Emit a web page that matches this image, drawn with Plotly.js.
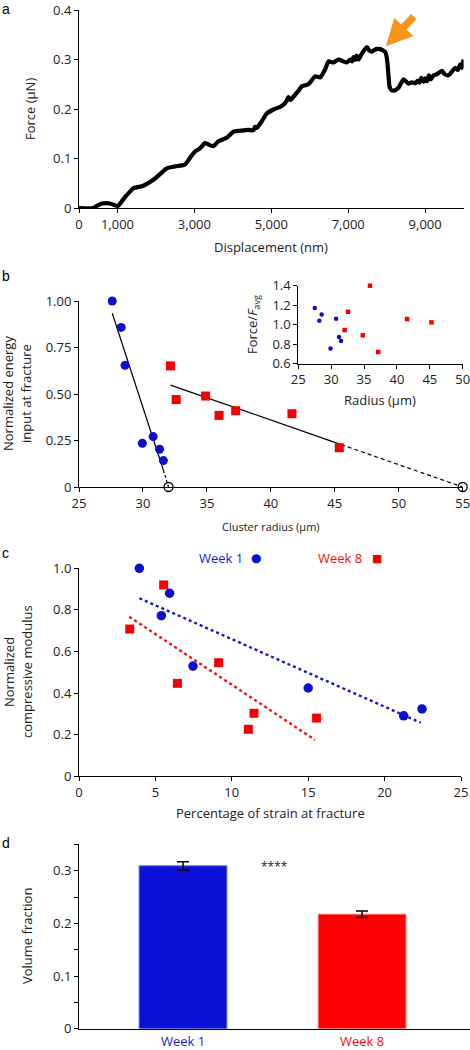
<!DOCTYPE html>
<html><head><meta charset="utf-8">
<script src="https://cdn.plot.ly/plotly-3.0.1.min.js"></script>
<style>html,body{margin:0;padding:0;background:#fff;}#chart{width:470px;height:1050px;}</style>
</head><body><div id="chart"></div>
<script>
// ---------- Panel a: force vs displacement ----------
const displacementNm = [0,373,500,600,807,1006,1100,1197,1300,1414,1674,1934,2100,2281,2498,2758,2900,3018,3150,3278,3400,3495,3625,3842,4016,4189,4400,4536,4580,4623,4750,4883,5056,5273,5380,5447,5500,5577,5700,5794,5967,6050,6141,6271,6400,6487,6617,6747,6850,6964,7050,7100,7138,7180,7220,7268,7355,7485,7550,7615,7720,7832,7962,8000,8023,8050,8075,8120,8179,8309,8439,8569,8650,8742,8800,8850,8900,8959,9000,9050,9100,9150,9219,9300,9436,9500,9610,9700,9783,9850,9913,9950,10000];
const forceMicroN = [0,0,0.006,0.009,0.009,0.004,0.012,0.022,0.031,0.040,0.045,0.057,0.068,0.080,0.084,0.088,0.103,0.114,0.121,0.131,0.127,0.125,0.135,0.142,0.154,0.156,0.158,0.157,0.164,0.162,0.175,0.191,0.199,0.206,0.214,0.224,0.218,0.225,0.236,0.246,0.250,0.258,0.266,0.264,0.280,0.296,0.294,0.300,0.297,0.294,0.300,0.296,0.305,0.299,0.308,0.300,0.312,0.325,0.318,0.316,0.321,0.321,0.315,0.305,0.290,0.265,0.245,0.238,0.237,0.243,0.260,0.251,0.254,0.252,0.257,0.253,0.263,0.255,0.262,0.256,0.268,0.260,0.268,0.270,0.277,0.271,0.268,0.276,0.283,0.279,0.290,0.283,0.300];
const dispTicks = [0,1000,3000,5000,7000,9000];
const dispTickText = ['0','1,000','3,000','5,000','7,000','9,000'];
const forceTicks = [0,0.1,0.2,0.3,0.4];
const forceTickText = ['0','0.1','0.2','0.3','0.4'];

// ---------- Panel b: energy vs cluster radius ----------
const radiusWeek1 = [27.6,28.3,28.6,29.95,30.8,31.3,31.6];
const energyWeek1 = [1.00,0.858,0.654,0.235,0.271,0.203,0.142];
const radiusWeek8 = [32.15,32.6,34.9,35.95,37.25,41.65,45.35];
const energyWeek8 = [0.651,0.470,0.489,0.385,0.410,0.394,0.211];
const fitWeek1SolidX = [27.6,31.6], fitWeek1SolidY = [0.934,0.09];
const fitWeek1DashX = [31.6,32.0], fitWeek1DashY = [0.09,0];
const fitWeek8SolidX = [32.15,45.5], fitWeek8SolidY = [0.548,0.228];
const fitWeek8DashX = [45.5,55], fitWeek8DashY = [0.228,0];
const interceptRadius = [32,55], interceptEnergy = [0,0];
const radiusTicks = [25,30,35,40,45,50,55];
const energyTicks = [0,0.25,0.5,0.75,1.0];
const energyTickText = ['0','0.25','0.50','0.75','1.00'];

// ---------- Panel b inset: force ratio vs radius ----------
const insetRadiusWeek1 = [27.5,28.55,28.2,30.75,29.9,31.2,31.5];
const insetForceWeek1 = [1.17,1.105,1.04,1.06,0.757,0.873,0.832];
const insetRadiusWeek8 = [35.9,32.55,32.05,34.8,37.15,41.55,45.25];
const insetForceWeek8 = [1.40,1.133,0.945,0.891,0.72,1.058,1.024];
const insetRadiusTicks = [25,30,35,40,45,50];
const insetForceTicks = [0.6,0.8,1.0,1.2,1.4];
const insetForceTickText = ['0.6','0.8','1.0','1.2','1.4'];

// ---------- Panel c: modulus vs strain ----------
const strainWeek1 = [3.95,5.93,5.39,7.46,15.0,21.25,22.45];
const modulusWeek1 = [1.00,0.880,0.772,0.530,0.4245,0.291,0.324];
const strainWeek8 = [5.54,3.32,6.44,9.14,11.08,11.45,15.55];
const modulusWeek8 = [0.920,0.708,0.447,0.546,0.226,0.303,0.280];
const trendWeek1X = [3.95,22.36], trendWeek1Y = [0.856,0.258];
const trendWeek8X = [3.29,15.45], trendWeek8Y = [0.767,0.175];
const strainTicks = [0,5,10,15,20,25];
const modulusTicks = [0,0.2,0.4,0.6,0.8,1.0];
const modulusTickText = ['0','0.2','0.4','0.6','0.8','1.0'];

// ---------- Panel d: volume fraction ----------
const groups = ['Week 1','Week 8'];
const volumeFraction = [0.3095,0.2175];
const volumeError = [0.008,0.006];
const volumeTicks = [0,0.05,0.1,0.15,0.2,0.25,0.3,0.35];
const volumeTickText = ['0','','0.1','','0.2','','0.3',''];

const BLUE = '#0d0dcf', RED = '#f50000', TXT = '#222';
const FONT = 'Open Sans, Lato, sans-serif';
const W = 470, H = 1050;
const dx = p => p / W;
const dy = p => 1 - p / H;

function axis(domain, range, extra) {
  return Object.assign({
    domain: domain, range: range, showline: true, linecolor: '#000', linewidth: 1,
    ticks: 'outside', ticklen: 4, tickwidth: 1, tickcolor: '#000',
    showgrid: false, zeroline: false, fixedrange: true, ticklabeloverflow: 'allow',
    tickfont: {family: FONT, size: 13, color: TXT}
  }, extra || {});
}

const traces = [
  {x: displacementNm, y: forceMicroN, xaxis: 'x', yaxis: 'y', mode: 'lines',
   line: {color: '#000', width: 4.2, shape: 'spline', smoothing: 0.6}, cliponaxis: false},

  {x: fitWeek1SolidX, y: fitWeek1SolidY, xaxis: 'x2', yaxis: 'y2', mode: 'lines', line: {color: '#000', width: 1.2}},
  {x: fitWeek1DashX, y: fitWeek1DashY, xaxis: 'x2', yaxis: 'y2', mode: 'lines', line: {color: '#000', width: 1.2, dash: '3px,2px'}},
  {x: fitWeek8SolidX, y: fitWeek8SolidY, xaxis: 'x2', yaxis: 'y2', mode: 'lines', line: {color: '#000', width: 1.2}},
  {x: fitWeek8DashX, y: fitWeek8DashY, xaxis: 'x2', yaxis: 'y2', mode: 'lines', line: {color: '#000', width: 1.2, dash: '4px,3px'}},
  {x: radiusWeek1, y: energyWeek1, xaxis: 'x2', yaxis: 'y2', mode: 'markers', cliponaxis: false,
   marker: {color: BLUE, size: 9, symbol: 'circle'}},
  {x: radiusWeek8, y: energyWeek8, xaxis: 'x2', yaxis: 'y2', mode: 'markers', cliponaxis: false,
   marker: {color: RED, size: 9, symbol: 'square'}},
  {x: interceptRadius, y: interceptEnergy, xaxis: 'x2', yaxis: 'y2', mode: 'markers', cliponaxis: false,
   marker: {color: '#000', size: 9, symbol: 'circle-open', line: {color: '#000', width: 1.3}}},

  {x: insetRadiusWeek1, y: insetForceWeek1, xaxis: 'x3', yaxis: 'y3', mode: 'markers', cliponaxis: false,
   marker: {color: BLUE, size: 4.5, symbol: 'circle'}},
  {x: insetRadiusWeek8, y: insetForceWeek8, xaxis: 'x3', yaxis: 'y3', mode: 'markers', cliponaxis: false,
   marker: {color: RED, size: 4.5, symbol: 'square'}},

  {x: trendWeek1X, y: trendWeek1Y, xaxis: 'x4', yaxis: 'y4', mode: 'lines', line: {color: '#1616d8', width: 2.4, dash: 'dot'}},
  {x: trendWeek8X, y: trendWeek8Y, xaxis: 'x4', yaxis: 'y4', mode: 'lines', line: {color: '#f21010', width: 2.4, dash: 'dot'}},
  {x: strainWeek1, y: modulusWeek1, xaxis: 'x4', yaxis: 'y4', mode: 'markers', cliponaxis: false,
   marker: {color: BLUE, size: 9.5, symbol: 'circle'}},
  {x: strainWeek8, y: modulusWeek8, xaxis: 'x4', yaxis: 'y4', mode: 'markers', cliponaxis: false,
   marker: {color: RED, size: 9, symbol: 'square'}},

  {x: groups, y: volumeFraction, xaxis: 'x5', yaxis: 'y5', type: 'bar', width: 0.49,
   marker: {color: ['#0c0fd6', '#fe0000'], line: {color: ['#5b6be8', '#ff7070'], width: 1}},
   error_y: {type: 'data', array: volumeError, visible: true, color: '#000', thickness: 1.5, width: 6}}
];

function ann(text, xp, yp, size, opts) {
  return Object.assign({text: text, xref: 'paper', yref: 'paper', x: dx(xp), y: dy(yp),
    xanchor: 'center', yanchor: 'middle', showarrow: false,
    font: {family: FONT, size: size, color: TXT}}, opts || {});
}
const bold = {family: 'Liberation Sans, Arial, sans-serif', size: 14, color: '#000'};

const layout = {
  width: W, height: H, margin: {l: 0, r: 0, t: 0, b: 0},
  paper_bgcolor: '#fff', plot_bgcolor: 'rgba(0,0,0,0)', showlegend: false,
  font: {family: FONT, color: TXT},
  xaxis: axis([dx(79), dx(463.6)], [0, 10000], {anchor: 'y', tickvals: dispTicks, ticktext: dispTickText}),
  yaxis: axis([dy(208), dy(10)], [0, 0.4], {anchor: 'x', tickvals: forceTicks, ticktext: forceTickText}),
  xaxis2: axis([dx(79), dx(462.7)], [25, 55], {anchor: 'y2', tickvals: radiusTicks}),
  yaxis2: axis([dy(487), dy(301)], [0, 1], {anchor: 'x2', tickvals: energyTicks, ticktext: energyTickText}),
  xaxis3: axis([dx(298.3), dx(462.7)], [25, 50], {anchor: 'y3', tickvals: insetRadiusTicks}),
  yaxis3: axis([dy(363.7), dy(285.7)], [0.6, 1.4], {anchor: 'x3', tickvals: insetForceTicks, ticktext: insetForceTickText}),
  xaxis4: axis([dx(79), dx(461)], [0, 25], {anchor: 'y4', tickvals: strainTicks}),
  yaxis4: axis([dy(776.3), dy(568.3)], [0, 1], {anchor: 'x4', tickvals: modulusTicks, ticktext: modulusTickText}),
  xaxis5: axis([dx(79), dx(470)], [-0.581, 1.603], {anchor: 'y5', type: 'category', ticks: '', ticklabelstandoff: 1,
    tickvals: groups, ticktext: ['<span style="color:#1a1ad0">Week 1</span>', '<span style="color:#f01010">Week 8</span>']}),
  yaxis5: axis([dy(1028.7), dy(844)], [0, 0.351], {anchor: 'x5', tickvals: volumeTicks, ticktext: volumeTickText}),
  annotations: [
    ann('a', 0, -1, 14, {xanchor: 'left', yanchor: 'top', font: bold}),
    ann('b', 0, 266, 14, {xanchor: 'left', yanchor: 'top', font: bold}),
    ann('c', 0, 543, 14, {xanchor: 'left', yanchor: 'top', font: bold}),
    ann('d', 0, 833, 14, {xanchor: 'left', yanchor: 'top', font: bold}),
    {xref: 'x', yref: 'y', axref: 'x', ayref: 'y', x: 7979, y: 0.327, ax: 8742, ay: 0.39,
     text: '', showarrow: true, arrowhead: 2, arrowsize: 0.7, arrowwidth: 7.5, arrowcolor: '#f7941d', standoff: 0},
    ann('Force (μN)', 30, 109, 13, {textangle: -90}),
    ann('Displacement (nm)', 271, 247, 13),
    ann('Normalized energy', 8, 394, 13, {textangle: -90}),
    ann('input at fracture', 26, 394, 13, {textangle: -90}),
    ann('Cluster radius (μm)', 271, 526, 11),
    ann('Force/<i>F</i><sub>avg</sub>', 253, 325, 13, {textangle: -90}),
    ann('Radius (μm)', 380, 400, 13),
    ann('Week 1', 245, 558, 13, {xanchor: 'right', font: {family: FONT, size: 13, color: '#1a1ad0'}}),
    ann('●', 256, 558, 12, {font: {family: 'DejaVu Sans', size: 12, color: BLUE}}),
    ann('Week 8', 364, 558, 13, {xanchor: 'right', font: {family: FONT, size: 13, color: '#f01010'}}),
    ann('■', 377, 558, 11, {font: {family: 'DejaVu Sans', size: 11, color: RED}}),
    ann('Normalized', 9, 672, 13, {textangle: -90}),
    ann('compressive modulus', 27, 672, 13, {textangle: -90}),
    ann('Percentage of strain at fracture', 270, 813, 13),
    ann('****', 274, 866, 12),
    ann('Volume fraction', 27, 936, 13, {textangle: -90})
  ]
};

Plotly.newPlot('chart', traces, layout, {staticPlot: true, displayModeBar: false});
</script></body></html>
